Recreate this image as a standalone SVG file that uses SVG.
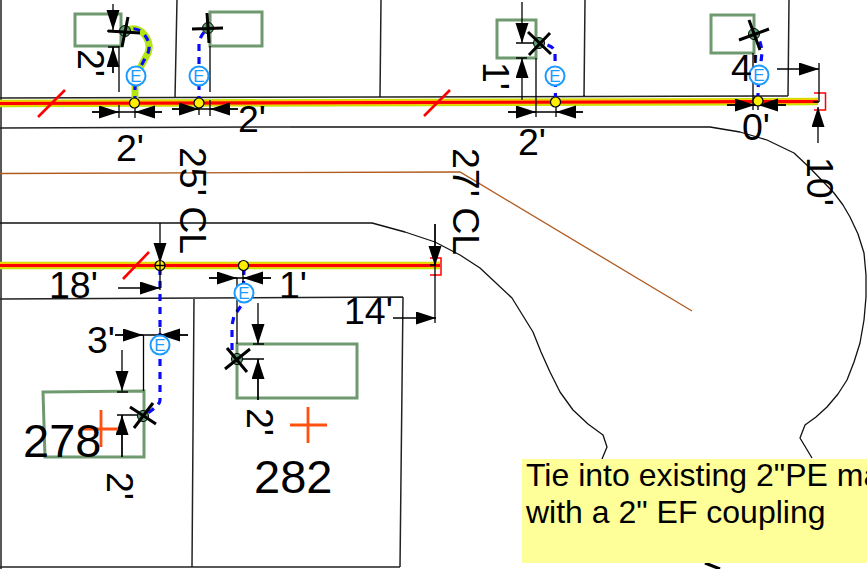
<svg xmlns="http://www.w3.org/2000/svg" width="867" height="569" viewBox="0 0 867 569">
<style>
text{font-family:"Liberation Sans",Arial,sans-serif;fill:#000}
.d{font-size:37.500px}
.n{font-size:47px}
.note{font-size:32px}
.lot{fill:none;stroke:#222;stroke-width:1.5}
.curve{fill:none;stroke:#111;stroke-width:1.3;stroke-linejoin:round}
.bld{fill:none;stroke:#6f9a6f;stroke-width:3}
.dim{fill:none;stroke:#000;stroke-width:1.3}
.arr{fill:none;stroke:#000;stroke-width:1.3;marker-end:url(#ah)}
.g1{fill:none;stroke:#c4e400;stroke-width:7.500}
.g2{fill:none;stroke:#ffc800;stroke-width:5}
.g3{fill:none;stroke:#f00;stroke-width:3.200}
.tick{stroke:#f00;stroke-width:2.600}
.cap{fill:none;stroke:#f00;stroke-width:1.500}
.svc{fill:none;stroke:#0a0aff;stroke-width:3.200;stroke-dasharray:7 6}
.hl{fill:none;stroke:#b4e614;stroke-width:7}
.tap{fill:#ffee00;stroke:#000;stroke-width:1.200}
.ec{fill:#fff;stroke:#1e9bff;stroke-width:2}
.et{font-size:17px;fill:#1e9bff;text-anchor:middle}
.vx{stroke:#000;stroke-width:3}
.vc{fill:#5f9f6f;stroke:#000;stroke-width:1}
.plus{stroke:#ff5010;stroke-width:2.800}
</style>
<defs>
<marker id="ah" markerUnits="userSpaceOnUse" markerWidth="20" markerHeight="14" refX="20" refY="6.500" orient="auto"><path d="M0,0L20,6.500L0,13Z" fill="#000"/></marker>
</defs>
<rect width="867" height="569" fill="#fff"/>
<g id="parcels">
<path class="lot" d="M1,0V569M177,0L175,98M381,0L380,97M585,0L584,97M789,0L788,96M0,98L788,96M0,128L290,127M0,299L403,297M403,297L400,567M194,298L192,567M0,567H400"/>
<path class="curve" d="M290,127H710L740,132L767,140L794,153L810,168L834,193L843,205L850,217L858,234L864,253L866,275L866,297L864,320L860,343L854,362L847,380L838,394L827,407L816,417L805,425L800,438L812,458"/>
<path class="curve" d="M0,223H372L405,232L435,242L460,255L480,268L512,298L533,332L541,352L550,372L560,392L573,410L588,424L603,435L607,447L602,459"/>
<path d="M0,173.500L460,172L692,311" fill="none" stroke="#b05a1e" stroke-width="1.300"/>
</g>
<g id="mains">
<path class="g1" d="M0,103.500L818,101.500"/><path class="g2" d="M0,103.300L818,101.300"/><path class="g3" d="M0,103.500L818,101.500"/>
<path class="g1" d="M0,265.500H440"/><path class="g2" d="M0,265.300H440"/><path class="g3" d="M0,265.500H440"/>
<path class="tick" d="M38,117L65,90M424,116L450,90M123,279L149,252"/>
<path class="cap" d="M814,93H825.500V110H814M430,258H441V275H430"/>
</g>
<g id="buildings">
<rect class="bld" x="75" y="14" width="46" height="32"/>
<rect class="bld" x="210" y="12" width="52" height="34"/>
<path class="bld" d="M497,20H536V58H497Z"/>
<rect class="bld" x="711" y="15" width="43" height="38"/>
<rect class="bld" x="237" y="344" width="120" height="54"/>
<path class="bld" d="M43,392L144,391V457H45Z"/>
</g>
<g id="connectors">
<path class="hl" d="M135,103V87L140,68L148,53Q152,42 142,32Q134,26 125,31"/>
<path class="svc" d="M135,103V87L140,68L148,53Q152,42 142,32Q134,26 125,31"/>
<path class="svc" d="M199,103V45Q199,36 208,28"/>
<path class="svc" d="M555.500,100L555,52Q554,45 539,43"/>
<path class="svc" d="M758,100V88L762,53Q761,38 754,34"/>
<path class="svc" d="M160,268V400Q160,406 143,416"/>
<path class="svc" d="M244,268L243,303L234,316L232,325V350L237,359"/>
<path class="dim" d="M119,46V92M135,108V118M92,112H162M119,105V118M107,31H125M108,47H119M113,47V73M210,46V92M199,100V115M210,100V116M172,109H238"/>
<path class="arr" d="M113,4V30"/><path class="arr" d="M113,73V47"/>
<path class="arr" d="M92,112H119"/><path class="arr" d="M162,112H135"/>
<path class="arr" d="M172,109H199"/><path class="arr" d="M238,109H210"/>
<path class="dim" d="M536,58V117M556,105V117M508,112H583M516,43H540M516,58H527"/>
<path class="arr" d="M522,2V43"/><path class="arr" d="M522,100V58"/>
<path class="arr" d="M508,112H536"/><path class="arr" d="M583,112H556"/>
<path class="dim" d="M753,53V110M758,98V110M727,105H786M819,63V102M813,102H819"/>
<path class="arr" d="M727,105H755"/><path class="arr" d="M786,105H758"/>
<path class="arr" d="M777,69H819"/><path class="arr" d="M818,143V107"/>
<path class="arr" d="M160,223V263"/><path class="arr" d="M118,288H160"/>
<path class="dim" d="M160,263V290M237,278V344M243,270V285M209,278H271M143.500,335V391M160,328V342M115,335H188M117,392H128M117,415H140M122,415V457M253,344H264M240,359H264M258,359V400M435,224V323M430,265H436"/>
<path class="arr" d="M209,278H237"/><path class="arr" d="M271,278H243"/>
<path class="arr" d="M115,335H143"/><path class="arr" d="M188,335H160"/>
<path class="arr" d="M122,350V391"/><path class="arr" d="M122,457V415"/>
<path class="arr" d="M258,303V344"/><path class="arr" d="M258,400V359"/>
<path class="arr" d="M393,318H436"/><path class="arr" d="M435,224V266"/>
</g>
<g id="tap1"><circle class="tap" cx="134.500" cy="103" r="5"/></g>
<g id="tap2"><circle class="tap" cx="199" cy="103" r="5"/></g>
<g id="tap3"><circle class="tap" cx="555.500" cy="102" r="5"/></g>
<g id="tap4"><circle class="tap" cx="758" cy="101" r="5"/></g>
<g id="tap5"><circle class="tap" cx="243.500" cy="265.500" r="5"/></g>
<g id="tap6"><circle class="tap" cx="160" cy="265.500" r="5"/><path class="dim" d="M155,265.500H165M160,260.500V270.500"/></g>
<g id="valve1"><circle class="vc" cx="125" cy="31" r="5.500"/><path class="vx" d="M108,31L140,33M128,17L122,47"/></g>
<g id="valve2"><circle class="vc" cx="208" cy="28" r="5.500"/><path class="vx" d="M192,29L223,28M207,13L209,43"/></g>
<g id="valve3"><circle class="vc" cx="539" cy="43" r="5.500"/><path class="vx" d="M528,32L551,54M529,55L550,33"/></g>
<g id="valve4"><circle class="vc" cx="754" cy="34" r="5.500"/><path class="vx" d="M739,40L769,29M749,20L760,50"/></g>
<g id="valve5"><circle class="vc" cx="143" cy="416" r="5.500"/><path class="vx" d="M130,407L156,424M134,428L153,403"/></g>
<g id="valve6"><circle class="vc" cx="237" cy="359" r="5.500"/><path class="vx" d="M227,348L247,372M225,369L250,349"/></g>
<g id="meter1"><circle class="ec" cx="136" cy="76" r="9.500"/><text class="et" x="136" y="82">E</text></g>
<g id="meter2"><circle class="ec" cx="199" cy="76" r="9.500"/><text class="et" x="199" y="82">E</text></g>
<g id="meter3"><circle class="ec" cx="555" cy="76" r="9.500"/><text class="et" x="555" y="82">E</text></g>
<g id="meter4"><circle class="ec" cx="759" cy="75" r="9.500"/><text class="et" x="759" y="81">E</text></g>
<g id="meter5"><circle class="ec" cx="244" cy="293" r="9.500"/><text class="et" x="244" y="299">E</text></g>
<g id="meter6"><circle class="ec" cx="160" cy="345" r="9.500"/><text class="et" x="160" y="351">E</text></g>
<g id="lots">
<path class="plus" d="M101,410V447M83,429H118M308,407V443M290,425H327"/>
<text class="n" x="23" y="457">278</text>
<text class="n" x="254" y="493">282</text>
</g>
<g id="labels">
<text class="d" x="116" y="161">2'</text>
<text class="d" x="238" y="132">2'</text>
<text class="d" x="518" y="155">2'</text>
<text class="d" x="742" y="140">0'</text>
<text class="d" x="731" y="81">4'</text>
<text class="d" x="49" y="298">18'</text>
<text class="d" x="279" y="298">1'</text>
<text class="d" x="344" y="324">14'</text>
<text class="d" x="87" y="353">3'</text>
<text class="d" transform="translate(78,49) rotate(90)">2'</text>
<text class="d" transform="translate(483,62) rotate(90)">1'</text>
<text class="d" transform="translate(180,147) rotate(90)">25' CL</text>
<text class="d" transform="translate(453,148) rotate(90)">27' CL</text>
<text class="d" transform="translate(807,157) rotate(90)">10'</text>
<text class="d" transform="translate(107,472) rotate(90)">2'</text>
<text class="d" transform="translate(247,408) rotate(90)">2'</text>
</g>
<path d="M705,563L720,569" stroke="#000" stroke-width="3"/>
<g id="note">
<rect x="522" y="459" width="345" height="104" fill="#ffff99"/>
<text class="note" x="526" y="486">Tie into existing 2"PE ma</text>
<text class="note" x="526" y="523">with a 2" EF coupling</text>
</g>
</svg>
